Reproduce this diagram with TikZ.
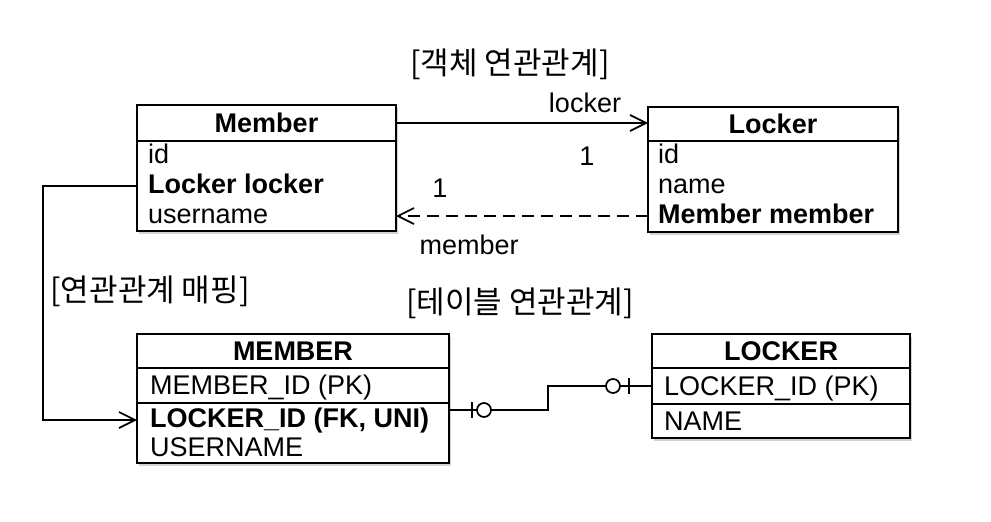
\documentclass[tikz,border=0pt]{standalone}
\usepackage{fontspec}
\setmainfont{Liberation Sans}
\newfontfamily\kr{Noto Sans CJK KR}
\usepackage{tikz}
\usetikzlibrary{positioning,shadows}
\usetikzlibrary{arrows.meta}

\begin{document}
\fontsize{27}{32}\selectfont
\begin{tikzpicture}[x=1pt,y=-1pt]
			\tikzset{
				tblhead/.style={draw,line width=2pt,fill=white,inner sep=0pt,outer sep=0pt,font=\bfseries,
					drop shadow={shadow xshift=1.5pt,shadow yshift=-3pt,opacity=.35}},
				tblbody/.style={tblhead,font=\normalfont},
				field/.style={anchor=west,inner sep=0pt,text height=19pt,text depth=5pt},
				caption/.style={font=\kr\fontsize{31}{36}\selectfont},
				link/.style={line width=1.7pt},
				open/.style={-{Straight Barb[length=16pt,width=16pt]}},
				ring/.style={circle,draw,line width=1.7pt,fill=white,minimum size=14pt,inner sep=0pt},
			}
			\useasboundingbox (0,0) rectangle (991,522);

			% objects
			\node[caption] (objtitle) at (510,64) {[객체 연관관계]};

			\node[tblhead,minimum width=259pt,minimum height=36pt] (member) at (266.5,123) {Member};
			\node[tblbody,minimum width=259pt,minimum height=90pt,anchor=north] (memberbody) at (member.south) {};
			\node[field] (memberid) at (148,156) {id};
			\node[field,font=\bfseries] (memberlocker) at (148,186) {Locker locker};
			\node[field] (membername) at (148,216) {username};

			\node[tblhead,minimum width=250pt,minimum height=34pt] (locker) at (773,124) {Locker};
			\node[tblbody,minimum width=250pt,minimum height=91pt,anchor=north] (lockerbody) at (locker.south) {};
			\node[field] (lockerid) at (658,156) {id};
			\node[field] (lockername) at (658,186) {name};
			\node[field,font=\bfseries] (lockermember) at (658,216) {Member member};

			\draw[link,open] (member.east) -- node[pos=.75,above=9pt,inner sep=0pt] (lockerlabel) {locker} (member.east -| locker.west);
			\draw[link,open,dash pattern=on 12pt off 7pt]
			(lockermember.west -| lockerbody.west) -- node[pos=.71,below=18pt,inner sep=0pt] (memberlabel) {member} (lockermember.west -| memberbody.east);
			\node (onelocker) at (587,156) {1};
			\node (onemember) at (440,188) {1};

			% tables
			\node[caption] (maptitle) at (150,291) {[연관관계 매핑]};
			\node[caption] (tbltitle) at (520,303) {[테이블 연관관계]};

			\node[tblhead,minimum width=312pt,minimum height=34pt] (tmember) at (293,351) {MEMBER};
			\node[tblbody,minimum width=312pt,minimum height=35pt,anchor=north] (tmemberpk) at (tmember.south) {};
			\node[tblbody,minimum width=312pt,minimum height=60pt,anchor=north] (tmemberbody) at (tmemberpk.south) {};
			\node[field] (tmemberid) at (150,387) {MEMBER\_ID (PK)};
			\node[field,font=\bfseries] (tlockerid) at (150,420) {LOCKER\_ID (FK, UNI)};
			\node[field] (tusername) at (150,449) {USERNAME};

			\node[tblhead,minimum width=258pt,minimum height=34pt] (tlocker) at (781,351) {LOCKER};
			\node[tblbody,minimum width=258pt,minimum height=36pt,anchor=north] (tlockerpk) at (tlocker.south) {};
			\node[tblbody,minimum width=258pt,minimum height=34pt,anchor=north] (tlockerbody) at (tlockerpk.south) {};
			\node[field] (tlockerkey) at (664,388) {LOCKER\_ID (PK)};
			\node[field] (tlockername) at (664,423) {NAME};

			\draw[link,open] (memberlocker.west -| memberbody.west) -- ++(-94,0) |- (tlockerid.west -| tmemberbody.west);

			\coordinate (fkend) at ([yshift=10pt]tlockerid.west -| tmemberbody.east);
			\draw[link] (fkend) -- ++(99,0) |- (tlockerpk.west);
			\draw[link] ([xshift=23pt]fkend) ++(0,-8) -- ++(0,16);
			\node[ring] (fkring) at ([xshift=35pt]fkend) {};
			\draw[link] ([xshift=-23pt]tlockerpk.west) ++(0,-8) -- ++(0,16);
			\node[ring] (pkring) at ([xshift=-39pt]tlockerpk.west) {};
		\end{tikzpicture}
\end{document}
